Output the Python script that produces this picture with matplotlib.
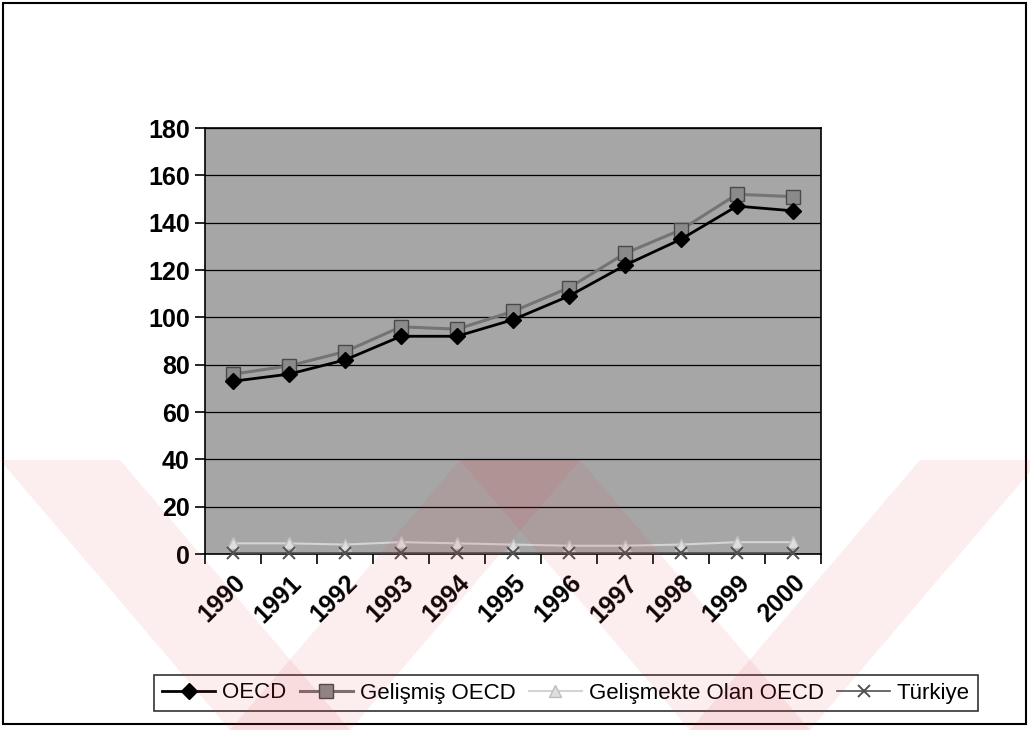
import numpy as np
import matplotlib.pyplot as plt
from matplotlib.patches import Polygon, Rectangle

plt.rcParams['font.family'] = ['Liberation Sans', 'DejaVu Sans']

# yearly index values per group
years = ['1990', '1991', '1992', '1993', '1994', '1995',
         '1996', '1997', '1998', '1999', '2000']
oecd = [73, 76, 82, 92, 92, 99, 109, 122, 133, 147, 145]
gelismis = [76, 79.5, 85.5, 96, 95, 102.5, 112.5, 127, 137, 152, 151]
gelismekte = [4.5, 4.5, 4, 5, 4.5, 4, 3.5, 3.5, 4, 5, 5]
turkiye = [0.5, 0.5, 0.5, 0.5, 0.5, 0.5, 0.5, 0.5, 0.5, 0.5, 0.5]

W, H = 1030, 730
fig = plt.figure(figsize=(W / 100, H / 100), dpi=100)


def px(x, y):
    # pixel position (top-left origin) -> figure fraction
    return (x / W, 1 - y / H)


# outer chart border
fig.patches.append(Rectangle(px(3, 724), 1023 / W, 721 / H, fill=False,
                             edgecolor='black', lw=1.5,
                             transform=fig.transFigure, zorder=1))

ax = fig.add_axes([205 / W, 1 - 554 / H, 616 / W, 426 / H])
ax.set_facecolor('#a6a6a6')

x = np.arange(len(years))
ax.plot(x, oecd, color='black', lw=2, marker='D', ms=8,
        mfc='black', mec='black', label='OECD', zorder=5)
ax.plot(x, gelismis, color='#747474', lw=2.2, marker='s', ms=10,
        mfc='#8a8a8a', mec='#4a4a4a', label='Gelişmiş OECD', zorder=4)
ax.plot(x, gelismekte, color='#d4d4d4', lw=1.5, marker='^', ms=8,
        mfc='#dedede', mec='#bdbdbd', label='Gelişmekte Olan OECD', zorder=3)
ax.plot(x, turkiye, color='#505050', lw=1.2, marker='x', ms=8, mew=1.4,
        label='Türkiye', zorder=3, clip_on=False)

ax.set_xlim(-0.5, len(years) - 0.5)
ax.set_ylim(0, 180)
ax.set_yticks(range(0, 181, 20))
ax.yaxis.grid(True, color='black', lw=0.9)
ax.set_axisbelow(True)

# ticks on category boundaries, labels at category centres
ax.set_xticks(np.arange(-0.5, len(years), 1))
ax.set_xticklabels([])
ax.set_xticks(x, minor=True)
ax.set_xticklabels(years, minor=True, rotation=45, ha='right', va='top',
                   rotation_mode='anchor', fontsize=18, fontweight='bold')
ax.tick_params(axis='x', which='major', length=7, width=1.2, color='black')
ax.tick_params(axis='x', which='minor', length=0, pad=12)
ax.tick_params(axis='y', length=7, width=1.2, labelsize=18, pad=4)
for lab in ax.get_yticklabels():
    lab.set_fontweight('bold')
for s in ax.spines.values():
    s.set_color('black')
    s.set_linewidth(1.2)

leg = fig.legend(loc='center', bbox_to_anchor=px(566, 693), ncol=4,
                 frameon=True, fancybox=False, edgecolor='black',
                 fontsize=16, handlelength=2.4, handletextpad=0.3,
                 columnspacing=0.6, borderpad=0.35)
leg.get_frame().set_linewidth(1.2)

# faint red chevron stamp across the lower half
def band(x0, y0, x1, y1, w):
    pts = [px(x0 - w / 2, y0), px(x0 + w / 2, y0),
           px(x1 + w / 2, y1), px(x1 - w / 2, y1)]
    fig.patches.append(Polygon(pts, closed=True, transform=fig.transFigure,
                               facecolor='#e23a46', alpha=0.09,
                               edgecolor='none', zorder=10))


band(60, 460, 290, 730, 120)
band(520, 460, 290, 730, 120)
band(520, 460, 750, 730, 120)
band(980, 460, 750, 730, 120)

fig.savefig('out.png', dpi=100)
